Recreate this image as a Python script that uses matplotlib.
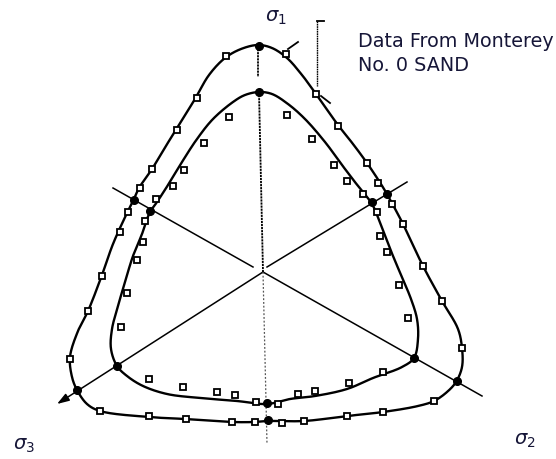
import numpy as np
import matplotlib
matplotlib.use("Agg")
import matplotlib.pyplot as plt

plt.rcParams["mathtext.fontset"] = "dejavusans"

# Deviatoric (pi) plane, origin at the hydrostatic axis, y upward.
# Fitted failure surfaces: control points along each closed curve.
outer_curve_x = [-5, -22, -38, -54, -68, -88, -111, -124, -129, -136, -150, -161, -175,
                 -185, -193, -191, -186, -176, -163, -114, -78, -31, -9, 5, 41, 84, 120,
                 155, 171, 184, 193, 199, 199, 195, 179, 160, 140, 130, 124, 116, 104,
                 90, 75, 53, 39, 24, 9]
outer_curve_y = [227, 223, 214, 197, 173, 141, 103, 84, 73, 59, 28, -3, -39,
                 -59, -85, -105, -118, -132, -139, -145, -147, -150, -150, -149, -149, -144, -140,
                 -134, -129, -120, -110, -95, -76, -57, -29, 6, 48, 67, 78, 91, 109,
                 128, 147, 178, 197, 214, 224]

inner_curve_x = [-4, -18, -30, -50, -66, -81, -95, -106, -113, -121, -130, -138, -145,
                 -151, -152, -146, -136, -120, -96, -63, -26, 4, 27, 52, 84, 110, 139,
                 151, 155, 154, 148, 138, 130, 123, 116, 109, 95, 82, 62, 42, 25, 9]
inner_curve_y = [180, 177, 170, 153, 133, 110, 87, 70, 60, 38, 16, -10, -34,
                 -57, -77, -94, -104, -114, -122, -126, -129, -132, -127, -124, -117, -106, -95,
                 -86, -67, -47, -27, -3, 16, 34, 52, 68, 86, 103, 130, 153, 168, 178]

# Test results (open squares)
outer_data_x = [-37, -66, -86, -111, -123, -135, -143, -161, -175, -193, -163, -114, -77, -31,
                -8, 19, 41, 84, 120, 171, 199, 179, 160, 140, 129, 115, 104, 75, 53, 23]
outer_data_y = [216, 174, 142, 103, 84, 60, 40, -4, -39, -87, -139, -144, -147, -150,
                -150, -151, -149, -144, -140, -129, -76, -29, 6, 48, 68, 89, 109, 146, 178, 218]

inner_data_x = [-34, -59, -79, -90, -107, -118, -120, -126, -136, -142, -114, -80, -46,
                -28, -7, 15, 35, 52, 86, 120, 145, 136, 124, 117, 114, 100, 84, 71, 49, 24]
inner_data_y = [155, 129, 102, 86, 73, 51, 30, 12, -21, -55, -107, -115, -120,
                -123, -130, -132, -122, -119, -111, -100, -46, -13, 20, 36, 60, 78, 91, 107, 133, 157]

# Curve crossings of the principal stress axes (filled dots)
outer_axis_x = [-4, 124, 194, 5, -186, -129]
outer_axis_y = [226, 78, -109, -148, -118, 72]
inner_axis_x = [-4, 109, 151, 4, -146, -113]
inner_axis_y = [180, 70, -86, -131, -94, 61]

axis_labels = [r"$\sigma_1$", r"$\sigma_2$", r"$\sigma_3$"]
note_lines = ["Data From Monterey", "No. 0 SAND"]


def closed_spline(xs, ys, n=24, alpha=0.5):
    """Centripetal Catmull-Rom spline through a closed set of points."""
    P = np.column_stack([xs, ys]).astype(float)
    N = len(P)
    segs = []
    for i in range(N):
        p0, p1, p2, p3 = P[(i - 1) % N], P[i], P[(i + 1) % N], P[(i + 2) % N]
        t0 = 0.0
        t1 = t0 + np.linalg.norm(p1 - p0) ** alpha
        t2 = t1 + np.linalg.norm(p2 - p1) ** alpha
        t3 = t2 + np.linalg.norm(p3 - p2) ** alpha
        t = np.linspace(t1, t2, n, endpoint=False)[:, None]
        a1 = (t1 - t) / (t1 - t0) * p0 + (t - t0) / (t1 - t0) * p1
        a2 = (t2 - t) / (t2 - t1) * p1 + (t - t1) / (t2 - t1) * p2
        a3 = (t3 - t) / (t3 - t2) * p2 + (t - t2) / (t3 - t2) * p3
        b1 = (t2 - t) / (t2 - t0) * a1 + (t - t0) / (t2 - t0) * a2
        b2 = (t3 - t) / (t3 - t1) * a2 + (t - t1) / (t3 - t1) * a3
        segs.append((t2 - t) / (t2 - t1) * b1 + (t - t1) / (t2 - t1) * b2)
    c = np.vstack(segs + [segs[0][:1]])
    return c[:, 0], c[:, 1]


fig = plt.figure(figsize=(5.56, 4.60), dpi=100)
ax = fig.add_axes([0, 0, 1, 1])
ax.set_xlim(-263, 293)
ax.set_ylim(-187, 273)
ax.set_aspect("equal")
ax.axis("off")

ink = "black"
text_c = "#161638"

# principal stress axes
ax.plot([0, 219], [0, -124], color=ink, lw=1.1, zorder=1)          # sigma2
ax.plot([-10, -150], [5, 84], color=ink, lw=1.1, zorder=1)         # -sigma2
ax.plot([4, 144], [5, 90], color=ink, lw=1.1, zorder=1)            # -sigma3
ax.annotate("", xy=(-206, -132), xytext=(0, 0),
            arrowprops=dict(arrowstyle="-|>,head_length=0.6,head_width=0.2", lw=1.1,
                            color=ink, mutation_scale=12, shrinkA=0, shrinkB=0), zorder=1)
# sigma1 axis (hatched in print)
ax.plot([-4, 0], [180, 0], color=ink, lw=1.3, ls=(0, (1.2, 0.5)), zorder=1)
ax.plot([-5, -5], [226, 195], color=ink, lw=1.3, ls=(0, (1.2, 0.5)), zorder=1)
ax.plot([0, 4], [0, -172], color="#555555", lw=0.9, ls=(0, (1.5, 1.5)), zorder=1)

# fitted surfaces
for cx, cy in ((outer_curve_x, outer_curve_y), (inner_curve_x, inner_curve_y)):
    sx, sy = closed_spline(cx, cy)
    ax.plot(sx, sy, color=ink, lw=1.7, zorder=2, solid_capstyle="round")

# data points
sq = dict(ls="none", marker="s", ms=4.8, mfc="white", mec=ink, mew=1.3, zorder=4)
ax.plot(outer_data_x, outer_data_y, **sq)
ax.plot(inner_data_x, inner_data_y, **sq)
dot = dict(ls="none", marker="o", ms=5.5, mfc=ink, mec=ink, zorder=5)
ax.plot(outer_axis_x, outer_axis_y, **dot)
ax.plot(inner_axis_x, inner_axis_y, **dot)

# leader and small ticks on the outer curve
ax.plot([54, 54], [251, 186], color=ink, lw=1.0, ls=(0, (1.2, 0.5)), zorder=1)
ax.plot([54, 61], [251, 251], color=ink, lw=1.3, zorder=1)
ax.plot([25, 35], [223, 230], color=ink, lw=1.3, zorder=1)
ax.plot([58, 67], [176, 169], color=ink, lw=1.3, zorder=1)

# labels
ax.text(13, 255, axis_labels[0], fontsize=14, color=text_c, ha="center", va="center")
ax.text(262, -168, axis_labels[1], fontsize=14, color=text_c, ha="center", va="center")
ax.text(-239, -173, axis_labels[2], fontsize=14, color=text_c, ha="center", va="center")
ax.text(95, 226, note_lines[0], fontsize=13.8, color=text_c, ha="left", va="baseline")
ax.text(95, 202, note_lines[1], fontsize=13.8, color=text_c, ha="left", va="baseline")

fig.savefig("out.png", dpi=100)
